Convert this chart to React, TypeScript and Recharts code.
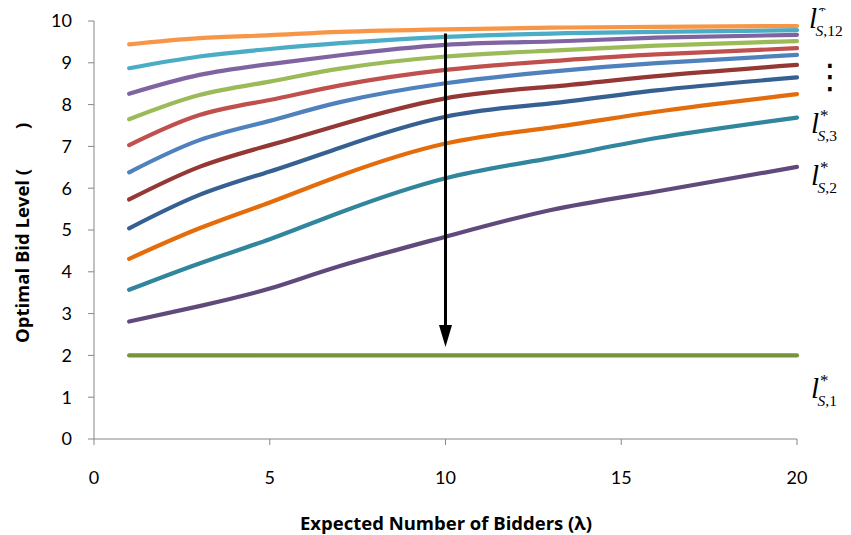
import React from 'react';
import { LineChart, Line, XAxis, YAxis, ReferenceLine } from 'recharts';

// Expected number of bidders (λ) sampled along the x axis
const lambdas = [1, 3, 5, 7, 10, 13, 16, 20];

// Optimal bid level for each segment l*_{S,k}, k = 1..12
const levelS1 = [2, 2, 2, 2, 2, 2, 2, 2];
const levelS2 = [2.81, 3.18, 3.6, 4.14, 4.84, 5.48, 5.92, 6.51];
const levelS3 = [3.57, 4.2, 4.78, 5.42, 6.24, 6.72, 7.2, 7.69];
const levelS4 = [4.31, 5.04, 5.66, 6.3, 7.07, 7.45, 7.83, 8.25];
const levelS5 = [5.04, 5.84, 6.4, 6.97, 7.71, 8.03, 8.34, 8.65];
const levelS6 = [5.73, 6.51, 7.03, 7.52, 8.15, 8.43, 8.68, 8.95];
const levelS7 = [6.38, 7.15, 7.61, 8.06, 8.51, 8.79, 8.99, 9.19];
const levelS8 = [7.03, 7.75, 8.11, 8.46, 8.83, 9.04, 9.2, 9.35];
const levelS9 = [7.65, 8.23, 8.55, 8.86, 9.15, 9.29, 9.41, 9.52];
const levelS10 = [8.26, 8.71, 8.97, 9.18, 9.43, 9.51, 9.6, 9.67];
const levelS11 = [8.87, 9.15, 9.33, 9.47, 9.62, 9.7, 9.74, 9.78];
const levelS12 = [9.44, 9.59, 9.66, 9.74, 9.8, 9.84, 9.86, 9.88];

const xTicks = [0, 5, 10, 15, 20];
const yTicks = [0, 1, 2, 3, 4, 5, 6, 7, 8, 9, 10];

// Arrow showing the direction of decreasing segment index at λ = 10
const arrowLambda = 10;
const arrowFrom = 9.7;
const arrowTo = 2.2;

const seriesLevels = [
  levelS1, levelS2, levelS3, levelS4, levelS5, levelS6,
  levelS7, levelS8, levelS9, levelS10, levelS11, levelS12,
];

const seriesColors = [
  '#77933c', '#604a7b', '#31859c', '#e46c0a', '#376092', '#953735',
  '#4f81bd', '#c0504d', '#9bbb59', '#8064a2', '#4bacc6', '#f79646',
];

const data = lambdas.map((lam, i) => {
  const row: Record<string, number> = { lambda: lam };
  seriesLevels.forEach((arr, k) => {
    row[`s${k + 1}`] = arr[i];
  });
  return row;
});

const AXIS_GRAY = '#868686';
const TICK_FONT = { fontFamily: 'Lato, "Open Sans", sans-serif', fontSize: 18, fill: '#000' };
const TITLE_FONT = '"Open Sans", Lato, sans-serif';
const MATH_FONT = '"Liberation Serif", "DejaVu Serif", serif';

const ArrowShape = (props: any) => {
  const { x1, y1, x2, y2 } = props;
  const headLen = 22;
  const headHalf = 6.5;
  const dir = y2 > y1 ? 1 : -1;
  const baseY = y2 - dir * headLen;
  return (
    <g>
      <line x1={x1} y1={y1} x2={x2} y2={baseY} stroke="#000" strokeWidth={3} />
      <polygon
        points={`${x2 - headHalf},${baseY} ${x2 + headHalf},${baseY} ${x2},${y2}`}
        fill="#000"
      />
    </g>
  );
};

type SegLabelProps = { x: number; baseline: number; index: string };

// l*_{S,k} label set as one text run: italic l, superscript star, subscript "S,k"
const SegLabel = ({ x, baseline, index }: SegLabelProps) => (
  <text x={x} y={baseline} fontFamily={MATH_FONT} fill="#000">
    <tspan fontSize={29} fontStyle="italic">l</tspan>
    <tspan fontSize={17} dx={1} dy={-12}>*</tspan>
    <tspan fontSize={15.5} fontStyle="italic" dx={-11} dy={20}>S</tspan>
    <tspan fontSize={15.5}>{`,${index}`}</tspan>
  </text>
);

export default function App() {
  return (
    <div style={{ position: 'relative', width: 835, height: 527 }}>
      <LineChart
        width={835}
        height={527}
        data={data}
        margin={{ top: 13, right: 46, bottom: 0, left: 26 }}
      >
        <XAxis
          dataKey="lambda"
          type="number"
          domain={[0, 20]}
          ticks={xTicks}
          interval={0}
          height={96}
          stroke={AXIS_GRAY}
          tickLine={{ stroke: AXIS_GRAY }}
          tickSize={6}
          tickMargin={26}
          tick={TICK_FONT}
        />
        <YAxis
          type="number"
          domain={[0, 10]}
          ticks={yTicks}
          interval={0}
          width={60}
          stroke={AXIS_GRAY}
          tickLine={{ stroke: AXIS_GRAY }}
          tickSize={6}
          tickMargin={16}
          tick={TICK_FONT}
        />
        {seriesLevels.map((_, k) => (
          <Line
            key={k}
            dataKey={`s${k + 1}`}
            type="natural"
            stroke={seriesColors[k]}
            strokeWidth={4.2}
            strokeLinecap="round"
            dot={false}
            activeDot={false}
            isAnimationActive={false}
          />
        ))}
        <ReferenceLine
          segment={[
            { x: arrowLambda, y: arrowFrom },
            { x: arrowLambda, y: arrowTo },
          ]}
          shape={ArrowShape}
        />
      </LineChart>
      {/* annotation layer in page coordinates */}
      <svg
        width={851}
        height={535}
        style={{ position: 'absolute', left: -8, top: -8, pointerEvents: 'none' }}
      >
        <text
          x={446}
          y={522}
          textAnchor="middle"
          dominantBaseline="central"
          fontFamily={TITLE_FONT}
          fontWeight={700}
          fontSize={18.5}
          fill="#000"
        >
          Expected Number of Bidders (λ)
        </text>
        <text
          transform="translate(21, 343) rotate(-90)"
          textAnchor="start"
          dominantBaseline="central"
          fontFamily={TITLE_FONT}
          fontWeight={700}
          fontSize={18.5}
          fill="#000"
        >
          <tspan>Optimal Bid Level (</tspan>
          <tspan dx={40}>)</tspan>
        </text>
        <SegLabel x={809} baseline={28} index="12" />
        <text
          x={830}
          y={76}
          textAnchor="middle"
          dominantBaseline="central"
          fontFamily='"DejaVu Sans", sans-serif'
          fontSize={34}
          fill="#000"
        >
          ⋮
        </text>
        <SegLabel x={811} baseline={133} index="3" />
        <SegLabel x={811} baseline={185} index="2" />
        <SegLabel x={811} baseline={398} index="1" />
      </svg>
    </div>
  );
}
